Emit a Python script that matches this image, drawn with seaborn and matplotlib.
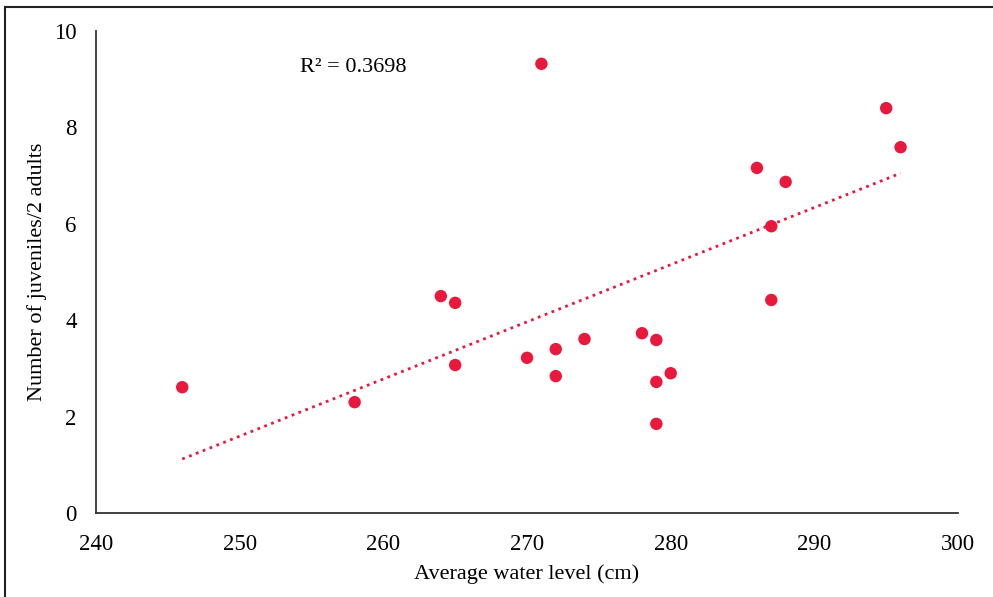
import numpy as np
import pandas as pd
import matplotlib
matplotlib.use('Agg')
import matplotlib.pyplot as plt
import seaborn as sns
from matplotlib.patches import Rectangle

# valores
water_level = [246, 258, 264, 265, 265, 270, 271, 272, 272, 274, 278,
               279, 279, 279, 280, 286, 287, 287, 288, 295, 296]
juveniles = [2.61, 2.30, 4.50, 4.36, 3.07, 3.22, 9.32, 3.40, 2.84, 3.61, 3.73,
             3.59, 2.72, 1.85, 2.90, 7.16, 5.95, 4.42, 6.87, 8.40, 7.59]
# linha de tendencia (extremos)
trend_x = [246, 296]
trend_y = [1.12, 7.05]
r2_label = 'R² = 0.3698'

df = pd.DataFrame({'water': water_level, 'juv': juveniles})
trend = pd.DataFrame({'water': trend_x, 'juv': trend_y})

sns.set_style('white')
plt.rcParams['font.family'] = ['Liberation Serif', 'DejaVu Serif']
plt.rcParams['text.color'] = 'black'

red = '#E8193C'
fig = plt.figure(figsize=(9.93, 5.97), dpi=100)
ax = fig.add_axes([0.0967, 0.1407, 0.8681, 0.8073])

sns.lineplot(data=trend, x='water', y='juv', ax=ax, color=red,
             linestyle=':', linewidth=2.0)
sns.scatterplot(data=df, x='water', y='juv', ax=ax, color=red, s=80,
                edgecolor='none', zorder=3)

ax.set_xlim(240, 300)
ax.set_ylim(0, 10)
ax.set_xticks(range(240, 301, 10))
ax.set_yticks(range(0, 11, 2))
ax.tick_params(axis='both', length=0, labelsize=16.5, colors='black')
ax.tick_params(axis='y', pad=14)
ax.tick_params(axis='x', pad=15)
for side in ['top', 'right']:
    ax.spines[side].set_visible(False)
for side in ['left', 'bottom']:
    ax.spines[side].set_color('#333333')
    ax.spines[side].set_linewidth(1.3)

ax.set_xlabel('Average water level (cm)', fontsize=16, labelpad=7, color='black')
ax.set_ylabel('Number of juveniles/2 adults', fontsize=16, labelpad=5, color='black')
ax.text(254.2, 9.25, r2_label, fontsize=16, ha='left', va='center', color='black')

# moldura da figura
fig.patches.append(Rectangle((5 / 993, -0.05), 1.1, 1 - 7 / 597 + 0.05,
                             transform=fig.transFigure, fill=False,
                             edgecolor='#222222', linewidth=1.5))

fig.savefig('out.png', dpi=100)
